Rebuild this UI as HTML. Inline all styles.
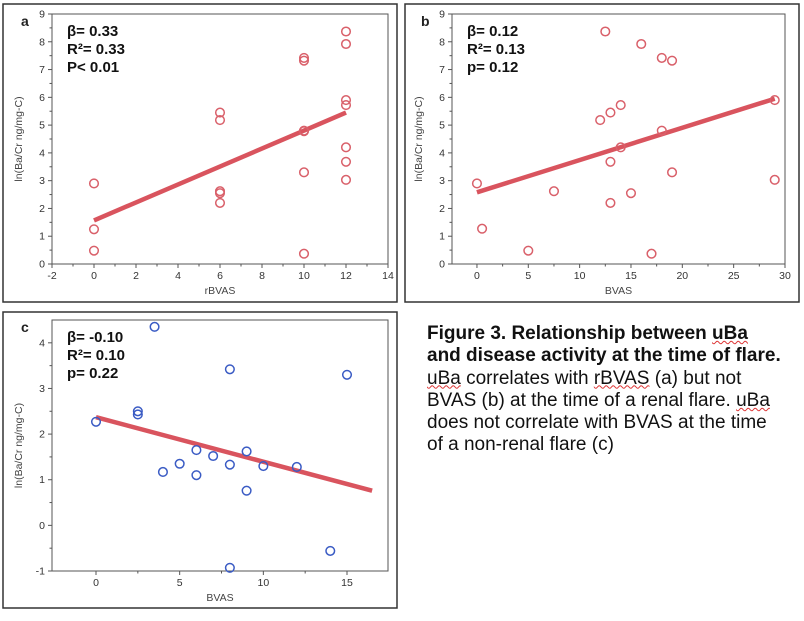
<!DOCTYPE html>
<html><head><meta charset="utf-8"><style>
body{margin:0;background:#fff;width:804px;height:621px;overflow:hidden;font-family:"Liberation Sans",sans-serif}
svg{position:absolute;left:0;top:0}
#cap{position:absolute;left:427px;top:323px;font-size:19px;line-height:22.3px;color:#111;width:380px;white-space:nowrap}
.sq{text-decoration:underline wavy #d33;text-decoration-thickness:1px}
</style></head><body>
<svg id="svg" width="804" height="621"></svg>
<div id="cap"><b>Figure 3. Relationship between <span class="sq">uBa</span><br>and disease activity at the time of flare.</b><br><span class="sq">uBa</span> correlates with <span class="sq">rBVAS</span> (a) but not<br>BVAS (b) at the time of a renal flare. <span class="sq">uBa</span><br>does not correlate with BVAS at the time<br>of a non-renal flare (c)</div>
<script>
const aX=[0,0,0,6,6,6,6,6,10,10,10,10,10,10,12,12,12,12,12,12,12];
const aY=[2.9,1.25,0.48,5.45,5.18,2.62,2.55,2.2,7.42,7.32,4.8,4.78,3.3,0.37,8.37,7.92,5.9,5.72,4.2,3.68,3.03];
const aFit=[[0,1.57],[12,5.45]];
const bX=[0,0.5,5,7.5,12,12.5,13,13,13,14,14,15,16,17,18,18,19,19,29,29];
const bY=[2.9,1.27,0.48,2.62,5.18,8.37,5.45,3.68,2.2,5.72,4.2,2.55,7.92,0.37,7.42,4.8,7.32,3.3,5.9,3.03];
const bFit=[[0,2.58],[29,5.95]];
const cX=[0,2.5,2.5,3.5,4,5,6,6,7,8,8,8,9,9,10,12,14,15];
const cY=[2.27,2.5,2.43,4.35,1.17,1.35,1.65,1.1,1.52,3.42,1.33,-0.93,1.62,0.76,1.3,1.28,-0.56,3.3];
const cFit=[[0,2.37],[16.5,0.76]];
const aXt=[-2,0,2,4,6,8,10,12,14], aYt=[0,1,2,3,4,5,6,7,8,9];
const bXt=[0,5,10,15,20,25,30], bYt=[0,1,2,3,4,5,6,7,8,9];
const cXt=[0,5,10,15], cYt=[-1,0,1,2,3,4];
const aStats=["β= 0.33","R²= 0.33","P< 0.01"], bStats=["β= 0.12","R²= 0.13","p= 0.12"], cStats=["β= -0.10","R²= 0.10","p= 0.22"];
const NS="http://www.w3.org/2000/svg", svg=document.getElementById('svg');
function el(t,a,p){const e=document.createElementNS(NS,t);for(const k in a)e.setAttribute(k,a[k]);(p||svg).appendChild(e);return e;}
function panel(o){
 const g=el('g',{});
 
 
 const box=el('rect',{x:o.bx[0],y:o.bx[1],width:o.bx[2],height:o.bx[3],fill:'none',stroke:'#333','stroke-width':1.5},g);
 
 
 const sx=v=>o.L+(v-o.x0)/(o.x1-o.x0)*(o.R-o.L), sy=v=>o.B-(v-o.y0)/(o.y1-o.y0)*(o.B-o.T);
 const fr=el('rect',{x:o.L,y:o.T,width:o.R-o.L,height:o.B-o.T,fill:'none',stroke:'#555','stroke-width':1},g);
 
 
 o.xt.forEach((v,i)=>{const x=sx(v);el('line',{x1:x,x2:x,y1:o.B,y2:o.B+4,stroke:'#555'},g);
  if(i<o.xt.length-1){const m=sx((v+o.xt[i+1])/2);el('line',{x1:m,x2:m,y1:o.B,y2:o.B+2.5,stroke:'#555'},g);}
  const t=el('text',{x:x,y:o.B+15,'font-size':10.5,fill:'#333','text-anchor':'middle'},g);t.textContent=v;
  
  });
 o.yt.forEach((v,i)=>{const y=sy(v);el('line',{x1:o.L-4,x2:o.L,y1:y,y2:y,stroke:'#555'},g);
  if(i<o.yt.length-1){const m=sy(v+0.5);el('line',{x1:o.L-2.5,x2:o.L,y1:m,y2:m,stroke:'#555'},g);}
  const t=el('text',{x:o.L-7,y:y+3.5,'font-size':10.5,fill:'#333','text-anchor':'end'},g);t.textContent=v;
  
  });
 const xl=el('text',{x:(o.L+o.R)/2,y:o.B+30,'font-size':10.5,fill:'#444','text-anchor':'middle'},g);xl.textContent=o.xl;
 
 
 const yc=(o.T+o.B)/2;
 const yl=el('text',{x:0,y:0,'font-size':10.5,fill:'#444','text-anchor':'middle',transform:`translate(${o.L-30},${yc}) rotate(-90)`},g);yl.textContent='ln(Ba/Cr ng/mg-C)';
 
 
 const lt=el('text',{x:o.L-31,y:o.T+12,'font-size':14,'font-weight':'bold',fill:'#222'},g);lt.textContent=o.id;
 
 
 o.st.forEach((s,i)=>{const t=el('text',{x:o.L+15,y:o.T+22+i*18,'font-size':15,'font-weight':'bold',fill:'#111'},g);t.textContent=s;
  
  });
 const ln=el('line',{x1:sx(o.fit[0][0]),y1:sy(o.fit[0][1]),x2:sx(o.fit[1][0]),y2:sy(o.fit[1][1]),stroke:'#d9545e','stroke-width':4.5},g);
 
 
 o.X.forEach((v,i)=>{const c=el('circle',{cx:sx(v),cy:sy(o.Y[i]),r:4.3,fill:'none',stroke:o.col,'stroke-width':1.5},g);
  
  });
}
panel({id:'a',bx:[3,4,394,298],L:52,R:388,T:14,B:264,x0:-2,x1:14,y0:0,y1:9,xt:aXt,yt:aYt,xl:'rBVAS',st:aStats,fit:aFit,X:aX,Y:aY,col:'#d9606a'});
panel({id:'b',bx:[405,4,394,298],L:452,R:785,T:14,B:264,x0:-2.43,x1:30,y0:0,y1:9,xt:bXt,yt:bYt,xl:'BVAS',st:bStats,fit:bFit,X:bX,Y:bY,col:'#d9606a'});
panel({id:'c',bx:[3,312,394,296],L:52,R:388,T:320,B:571,x0:-2.63,x1:17.45,y0:-1,y1:4.5,xt:cXt,yt:cYt,xl:'BVAS',st:cStats,fit:cFit,X:cX,Y:cY,col:'#3a5bc4'});
</script>
</body></html>
